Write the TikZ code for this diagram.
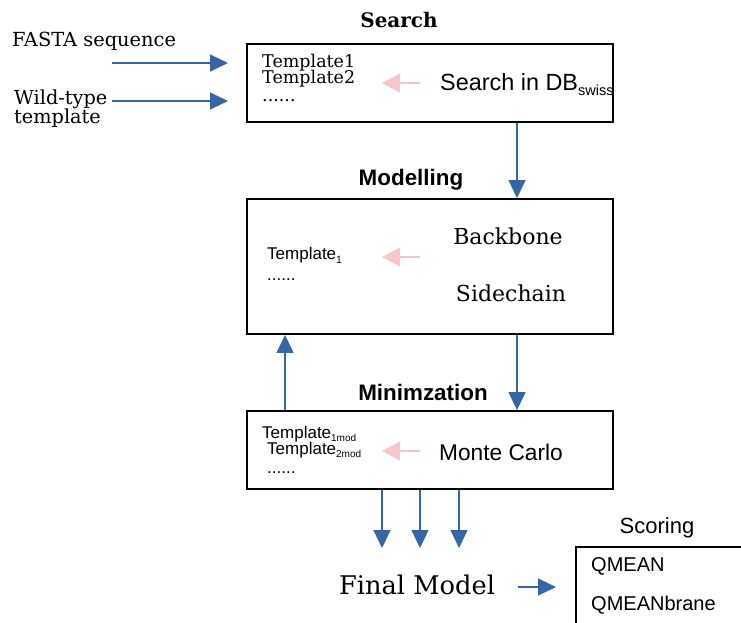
\documentclass[tikz,border=0pt]{standalone}
\usepackage{fontspec}
\setmainfont{DejaVu Serif}
\setsansfont{Liberation Sans}
\usetikzlibrary{arrows.meta}
\definecolor{flowblue}{HTML}{3465A4}
\definecolor{softpink}{HTML}{F6C6CC}
\newcommand{\lowtext}[3][0.62em]{#2\raisebox{-0.22em}{\sffamily\fontsize{#1}{#1}\selectfont #3}}
\tikzset{
  stagebox/.style={draw=black, line width=1.9pt, minimum width=366pt},
  flow/.style={draw=flowblue, line width=1.2pt, -{Triangle[length=18pt,width=17pt]}},
  backflow/.style={draw=softpink, line width=1.2pt, -{Triangle[length=18pt,width=19pt]}},
  serifbig/.style={font=\fontsize{19.4}{19.4}\selectfont, inner sep=0pt},
  seriflist/.style={font=\fontsize{17.5}{16}\selectfont, inner sep=0pt, anchor=west, align=left},
  sanslist/.style={font=\sffamily\fontsize{17}{17}\selectfont, inner sep=0pt, anchor=west},
  sansbig/.style={font=\sffamily\fontsize{22.7}{22.7}\selectfont, inner sep=0pt},
  stagetitle/.style={font=\sffamily\bfseries\fontsize{22.4}{22.4}\selectfont, inner sep=0pt},
}
\begin{document}
\begin{tikzpicture}[x=1pt,y=-1pt]
\clip (0,0) rectangle (741,622);
\fill[white] (0,0) rectangle (741,622);

% ---- Search stage ----
\node[font=\bfseries\fontsize{20}{20}\selectfont, inner sep=0pt] (searchtitle) at (399,20) {Search};
\node[stagebox, minimum height=78pt] (search) at (430,83) {};
\node[seriflist] (tpl1) at (262,63) {Template1};
\node[seriflist] (tpl2) at (262,79) {Template2};
\node[seriflist] (dots1) at (262,101) {......};
\node[sansbig, anchor=west, font=\sffamily\fontsize{23.4}{23.4}\selectfont] (dbsearch) at (440,85) {Search in \lowtext{DB}{swiss}};
\coordinate (pinkA) at (420,83);
\coordinate (pinkAend) at (382,83);
\draw[backflow] (pinkA) -- (pinkAend);

% inputs
\node[serifbig, anchor=west] (fasta) at (12,41) {FASTA sequence};
\node[serifbig, anchor=west, align=left, font=\fontsize{19.3}{19}\selectfont] (wild) at (14,109) {Wild-type\\template};
\coordinate (fastain) at (112,63);
\coordinate (wildin) at (112,101);
\coordinate (fastahead) at (228,63);
\coordinate (wildhead) at (228,101);
\draw[flow] (fastain) -- (fastahead);
\draw[flow] (wildin) -- (wildhead);

% ---- Modelling stage ----
\node[stagetitle] (modtitle) at (411,180) {Modelling};
\node[stagebox, minimum height=135pt] (model) at (430,266.5) {};
\node[sanslist] (tplm) at (267,255) {\lowtext{Template}{1}};
\node[sanslist] (dots2) at (267,280) {......};
\node[serifbig, font=\fontsize{22}{22}\selectfont] (backbone) at (508,236) {Backbone};
\node[serifbig, font=\fontsize{22}{22}\selectfont] (sidechain) at (511,293) {Sidechain};
\coordinate (pinkB) at (420,257);
\coordinate (pinkBend) at (382,257);
\draw[backflow] (pinkB) -- (pinkBend);

% ---- Minimization stage ----
\node[stagetitle] (mintitle) at (423,392) {Minimzation};
\node[stagebox, minimum height=78pt] (mini) at (430,450) {};
\node[sanslist] (tplx1) at (262,434) {\lowtext[10pt]{Template}{1mod}};
\node[sanslist] (tplx2) at (267,450) {\lowtext[10pt]{Template}{2mod}};
\node[sanslist] (dots3) at (267,473) {......};
\node[sansbig] (monte) at (501,452) {Monte Carlo};
\coordinate (pinkC) at (420,451);
\coordinate (pinkCend) at (382,451);
\draw[backflow] (pinkC) -- (pinkCend);

% ---- stage links ----
\draw[flow] (search.south -| 517,0) -- (model.north -| 517,0);
\draw[flow] (model.south -| 517,0) -- (mini.north -| 517,0);
\draw[flow] (mini.north -| 285,0) -- (model.south -| 285,0);

% ---- output ----
\node[serifbig, font=\fontsize{25.7}{25.7}\selectfont] (final) at (417,585) {Final Model};
\foreach \xx/\nm in {382/a,420/b,459/c}{
  \coordinate (drop\nm) at (\xx,548);
  \draw[flow] (mini.south -| \xx,0) -- (drop\nm);
}
\coordinate (toscore) at (518,587);
\coordinate (scorein) at (556,587);
\draw[flow] (toscore) -- (scorein);

% ---- Scoring ----
\node[sansbig, font=\sffamily\fontsize{22}{22}\selectfont] (scoretitle) at (657,528) {Scoring};
\node[draw=black, line width=1.6pt, anchor=north west, minimum width=200pt, minimum height=100pt] (scoring) at (575,546) {};
\node[sanslist, font=\sffamily\fontsize{20}{20}\selectfont] (qmean) at (591,566) {QMEAN};
\node[sanslist, font=\sffamily\fontsize{20}{20}\selectfont] (qbrane) at (591,605) {QMEANbrane};
\end{tikzpicture}
\end{document}
